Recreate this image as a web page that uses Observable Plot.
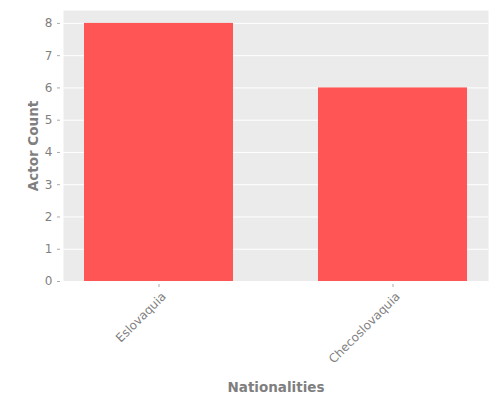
<!DOCTYPE html>
<html>
<head>
<meta charset="utf-8">
<script src="https://cdn.jsdelivr.net/npm/d3@7"></script>
<script src="https://cdn.jsdelivr.net/npm/@observablehq/plot@0.6"></script>
<style>
  body { margin: 0; background: #fff; }
  #chart { width: 500px; height: 400px; }
</style>
</head>
<body>
<div id="chart"></div>
<script>
const nationalities = ["Eslovaquia", "Checoslovaquia"];
const actorCounts = [8, 6];
const yTicks = [0, 1, 2, 3, 4, 5, 6, 7, 8];

const data = nationalities.map((n, i) => ({nationality: n, count: actorCounts[i]}));

const chart = Plot.plot({
  width: 500,
  height: 400,
  marginLeft: 63,
  marginRight: 12,
  marginTop: 10,
  marginBottom: 119,
  style: {fontFamily: "DejaVu Sans", fontSize: "12px", color: "#7f7f7f", background: "#fff"},
  x: {domain: nationalities, paddingInner: 0.365, paddingOuter: 0.09, label: null},
  y: {domain: [0, 8.4], label: null},
  marks: [
    Plot.frame({fill: "#EBEBEB", stroke: null}),
    Plot.gridY(yTicks, {stroke: "#fff", strokeOpacity: 1, strokeWidth: 1}),
    Plot.barY(data, {x: "nationality", y: "count", fill: "#FF5555"}),
    Plot.axisY(yTicks, {dx: -3, tickSize: 3, tickPadding: 5, stroke: "#aaa", fill: "#7f7f7f", fontSize: 12, label: null}),
    Plot.axisX(nationalities, {dy: 3, tickSize: 3, tickPadding: 6, stroke: "#aaa", label: null, text: null}),
    Plot.axisX(nationalities, {dy: 7, dx: 5, tickSize: 0, tickPadding: 6, tickRotate: -45, fill: "#7f7f7f", fontSize: 12, label: null}),
    Plot.text(["Actor Count"], {frameAnchor: "left", textAnchor: "middle", dx: -30, rotate: -90, fill: "#7f7f7f", fontSize: 13.5, fontWeight: "bold"}),
    Plot.text(["Nationalities"], {frameAnchor: "bottom", textAnchor: "middle", dy: 110, fill: "#7f7f7f", fontSize: 13.5, fontWeight: "bold"})
  ]
});
document.getElementById("chart").appendChild(chart);
</script>
</body>
</html>
